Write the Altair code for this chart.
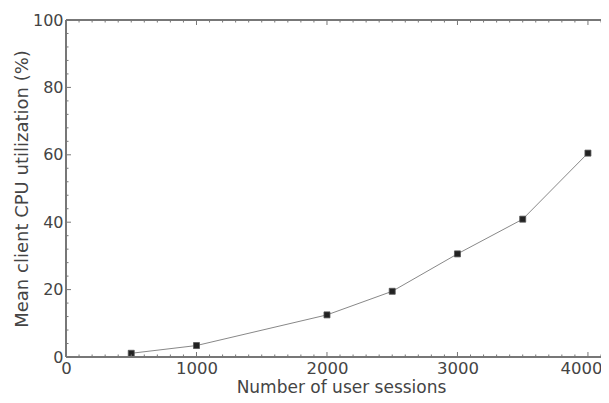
import altair as alt
import pandas as pd

# Data
sessions = [500, 1000, 2000, 2500, 3000, 3500, 4000]
cpu_util = [1.1, 3.4, 12.5, 19.5, 30.6, 40.9, 60.5]

x_major = [0, 1000, 2000, 3000, 4000]
x_minor = [v for v in range(0, 4101, 100) if v % 1000 != 0]
y_major = [0, 20, 40, 60, 80, 100]
y_minor = [v for v in range(0, 101, 4) if v % 20 != 0]

X_MAX = 4100
W, H = 535, 337
FONT = "DejaVu Sans"
TEXT = "#444444"
FRAME = "#777777"

df = pd.DataFrame({"sessions": sessions, "cpu": cpu_util})
xs = alt.Scale(domain=[0, X_MAX], nice=False, zero=False)
ys = alt.Scale(domain=[0, 100], nice=False)

base = alt.Chart(df)

line = base.mark_line(color="#888888", strokeWidth=1).encode(
    x=alt.X("sessions:Q", scale=xs,
            axis=alt.Axis(values=x_major, title="Number of user sessions", format="d",
                          labelFlush=False, ticks=False, domain=False, grid=False,
                          labelFontSize=16.5, labelFont=FONT, labelColor=TEXT,
                          labelOffset=alt.expr("datum.value == 4000 ? -7 : 0"),
                          labelPadding=3, titleFont=FONT, titleFontSize=17,
                          titleFontWeight="normal", titleColor=TEXT,
                          titleBaseline="alphabetic", titleY=35, titleX=275)),
    y=alt.Y("cpu:Q", scale=ys,
            axis=alt.Axis(values=y_major, title="Mean client CPU utilization (%)",
                          labelFlush=False, ticks=False, domain=False, grid=False,
                          labelFontSize=16, labelFont=FONT, labelColor=TEXT,
                          labelPadding=3, titleFont=FONT, titleFontSize=18,
                          titleFontWeight="normal", titleColor=TEXT, titlePadding=1)),
)
pts = base.mark_square(size=36, color="#222222", opacity=1,
                       stroke="#555555", strokeWidth=0.8).encode(
    x=alt.X("sessions:Q", scale=xs), y=alt.Y("cpu:Q", scale=ys))

# frame on left, top and bottom (right side lies outside the picture)
frame_top = base.mark_rule(color=FRAME, strokeWidth=1.5).encode(
    x=alt.value(0), x2=alt.value(W), y=alt.value(0))
frame_bot = base.mark_rule(color=FRAME, strokeWidth=1.5).encode(
    x=alt.value(0), x2=alt.value(W), y=alt.value(H))
frame_left = base.mark_rule(color=FRAME, strokeWidth=1.5).encode(
    x=alt.value(0), y=alt.value(0), y2=alt.value(H))

def xticks(vals, length):
    d = pd.DataFrame({"v": vals})
    bot = alt.Chart(d).mark_rule(color=FRAME, strokeWidth=1).encode(
        x=alt.X("v:Q", scale=xs), y=alt.value(H), y2=alt.value(H - length))
    top = alt.Chart(d).mark_rule(color=FRAME, strokeWidth=1).encode(
        x=alt.X("v:Q", scale=xs), y=alt.value(0), y2=alt.value(length))
    return [bot, top]

def yticks(vals, length):
    d = pd.DataFrame({"v": vals})
    left = alt.Chart(d).mark_rule(color=FRAME, strokeWidth=1).encode(
        y=alt.Y("v:Q", scale=ys), x=alt.value(0), x2=alt.value(length))
    return [left]

layers = ([line, pts, frame_top, frame_bot, frame_left]
          + xticks(x_major, 5) + xticks(x_minor, 2.5)
          + yticks(y_major, 5) + yticks(y_minor, 2.5))

chart = alt.layer(*layers).properties(
    width=W, height=H,
    autosize=alt.AutoSizeParams(type="none"),
    padding={"left": 58, "top": 12, "right": 0, "bottom": 38},
).configure_view(stroke=None, strokeWidth=0).configure(background="white")

chart.save("out.html", embed_options={"renderer": "svg", "actions": False})
